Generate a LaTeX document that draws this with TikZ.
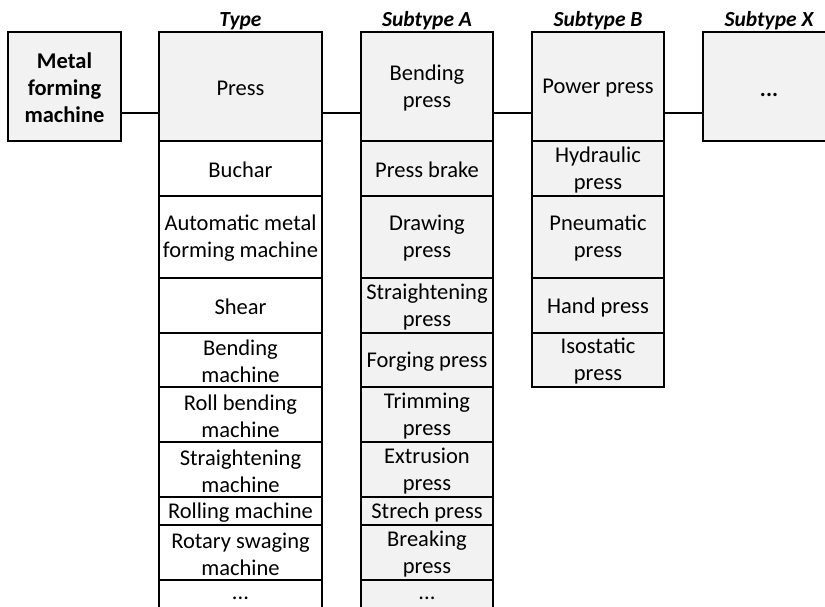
\documentclass[tikz,border=0pt]{standalone}
\usepackage{fontspec}
\setmainfont{Carlito}
\definecolor{boxgray}{HTML}{F2F2F2}
\tikzset{
  cellbase/.style={draw=black, line width=2.5pt, inner sep=0pt},
  cellG/.style={cellbase, fill=boxgray},
  cellW/.style={cellbase, fill=white},
  lbl/.style={align=center, inner sep=0pt, text=black, yshift=-1.5pt,
    font=\fontsize{22.5}{27}\selectfont},
  dots/.style={inner sep=0pt, text=black, text height=3pt, text depth=0pt,
    yshift=2pt, font=\fontsize{22.5}{27}\selectfont},
  colM/.style={minimum width=113pt},
  colT/.style={minimum width=163pt},
  colA/.style={minimum width=132pt},
  hdr/.style={anchor=base, inner sep=0pt, font=\fontsize{21.5}{27}\selectfont\bfseries\itshape},
  link/.style={draw=black, line width=2.2pt},
  hA/.style={minimum height=109pt},
  hB/.style={minimum height=55pt},
  hC/.style={minimum height=82pt},
  hD/.style={minimum height=54pt},
  hE/.style={minimum height=28pt},
  hF/.style={minimum height=40pt}
}
\begin{document}
\begin{tikzpicture}[x=1pt,y=-1pt]
\useasboundingbox (0,0) rectangle (825,606);
\clip (0,0) rectangle (825,606);
% headers
\node[hdr] (hT) at (240.5,26) {Type};
\node[hdr] (hSA) at (427,26) {Subtype A};
\node[hdr] (hSB) at (598,26) {Subtype B};
\node[hdr] (hSX) at (769,26) {Subtype X};
% root
\node[cellG, colM, hA, label={[lbl, yshift=0.5pt, font=\fontsize{22.5}{27}\selectfont\bfseries]center:Metal\\forming\\machine}] (m) at (64.5,86.5) {};
% Type column
\node[cellG, colT, hA, label={[lbl]center:Press}] (t1) at (240.5,86.5) {};
\node[cellW, colT, hB, label={[lbl]center:Buchar}] (t2) at (240.5,168.5) {};
\node[cellW, colT, hC, label={[lbl]center:Automatic metal\\forming machine}] (t3) at (240.5,237) {};
\node[cellW, colT, hB, label={[lbl]center:Shear}] (t4) at (240.5,305.5) {};
\node[cellW, colT, hD, label={[lbl]center:Bending\\machine}] (t5) at (240.5,360) {};
\node[cellW, colT, hB, label={[lbl]center:Roll bending\\machine}] (t6) at (240.5,414.5) {};
\node[cellW, colT, hB, label={[lbl]center:Straightening\\machine}] (t7) at (240.5,469.5) {};
\node[cellW, colT, hE, label={[lbl]center:Rolling machine}] (t8) at (240.5,511) {};
\node[cellW, colT, hB, label={[lbl]center:Rotary swaging\\machine}] (t9) at (240.5,552.5) {};
\node[cellW, colT, hF, label={[dots]center:...}] (t10) at (240.5,600) {};
% Subtype A column
\node[cellG, colA, hA, label={[lbl]center:Bending\\press}] (a1) at (427,86.5) {};
\node[cellG, colA, hB, label={[lbl]center:Press brake}] (a2) at (427,168.5) {};
\node[cellG, colA, hC, label={[lbl]center:Drawing\\press}] (a3) at (427,237) {};
\node[cellG, colA, hB, label={[lbl]center:Straightening\\press}] (a4) at (427,305.5) {};
\node[cellG, colA, hD, label={[lbl]center:Forging press}] (a5) at (427,360) {};
\node[cellG, colA, hB, label={[lbl]center:Trimming\\press}] (a6) at (427,414.5) {};
\node[cellG, colA, hB, label={[lbl]center:Extrusion\\press}] (a7) at (427,469.5) {};
\node[cellG, colA, hE, label={[lbl]center:Strech press}] (a8) at (427,511) {};
\node[cellG, colA, hB, label={[lbl]center:Breaking\\press}] (a9) at (427,552.5) {};
\node[cellG, colA, hF, label={[dots]center:...}] (a10) at (427,600) {};
% Subtype B column
\node[cellG, colA, hA, label={[lbl]center:Power press}] (b1) at (598,86.5) {};
\node[cellG, colA, hB, label={[lbl]center:Hydraulic\\press}] (b2) at (598,168.5) {};
\node[cellG, colA, hC, label={[lbl]center:Pneumatic\\press}] (b3) at (598,237) {};
\node[cellG, colA, hB, label={[lbl]center:Hand press}] (b4) at (598,305.5) {};
\node[cellG, colA, hD, label={[lbl]center:Isostatic\\press}] (b5) at (598,360) {};
% Subtype X
\node[cellG, colA, hA, label={[lbl, yshift=-7pt, font=\fontsize{22.5}{27}\selectfont\bfseries]center:...}] (x1) at (769,86.5) {};
% connectors
\draw[link] ([yshift=-26.5pt]m.east) -- ([yshift=-26.5pt]t1.west);
\draw[link] ([yshift=-26.5pt]t1.east) -- ([yshift=-26.5pt]a1.west);
\draw[link] ([yshift=-26.5pt]a1.east) -- ([yshift=-26.5pt]b1.west);
\draw[link] ([yshift=-26.5pt]b1.east) -- ([yshift=-26.5pt]x1.west);
\end{tikzpicture}
\end{document}
